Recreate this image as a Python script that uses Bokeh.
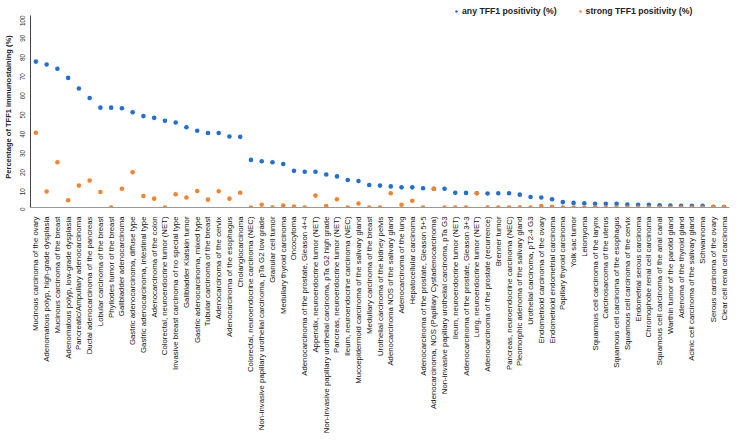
import math
from bokeh.plotting import figure
from bokeh.models import FactorRange, Range1d, FixedTicker, Legend, LegendItem, ColumnDataSource
from bokeh.embed import file_html
from bokeh.resources import INLINE

categories = [
    "Mucinous carcinoma of the ovary",
    "Adenomatous polyp, high-grade dysplasia",
    "Mucinous carcinoma of the breast",
    "Adenomatous polyp, low-grade dysplasia",
    "Pancreatic/Ampullary adenocarcinoma",
    "Ductal adenocarcinoma of the pancreas",
    "Lobular carcinoma of the breast",
    "Phyllodes tumor of the breast",
    "Gallbladder adenocarcinoma",
    "Gastric adenocarcinoma, diffuse type",
    "Gastric adenocarcinoma, intestinal type",
    "Adenocarcinoma of the colon",
    "Colorectal, neuroendocrine tumor (NET)",
    "Invasive breast carcinoma of no special type",
    "Gallbladder Klatskin tumor",
    "Gastric adenocarcinoma, mixed type",
    "Tubular carcinoma of the breast",
    "Adenocarcinoma of the cervix",
    "Adenocarcinoma of the esophagus",
    "Cholangiocarcinoma",
    "Colorectal, neuroendocrine carcinoma (NEC)",
    "Non-invasive papillary urothelial carcinoma, pTa G2 low grade",
    "Granular cell tumor",
    "Medullary thyroid carcinoma",
    "Oncocytoma",
    "Adenocarcinoma of the prostate, Gleason 4+4",
    "Appendix, neuroendocrine tumor (NET)",
    "Non-invasive papillary urothelial carcinoma, pTa G2 high grade",
    "Pancreas, neuroendocrine tumor (NET)",
    "Ileum, neuroendocrine carcinoma (NEC)",
    "Mucoepidermoid carcinoma of the salivary gland",
    "Medullary carcinoma of the breast",
    "Urothelial carcinoma of the kidney pelvis",
    "Adenocarcinoma NOS of the salivary gland",
    "Adenocarcinoma of the lung",
    "Hepatocellular carcinoma",
    "Adenocarcinoma of the prostate, Gleason 5+5",
    "Adenocarcinoma, NOS (Papillary Cystadenocarcinoma)",
    "Non-invasive papillary urothelial carcinoma, pTa G3",
    "Ileum, neuroendocrine tumor (NET)",
    "Adenocarcinoma of the prostate, Gleason 3+3",
    "Lung, neuroendocrine tumor (NET)",
    "Adenocarcinoma of the prostate (recurrence)",
    "Brenner tumor",
    "Pancreas, neuroendocrine carcinoma (NEC)",
    "Pleomorphic adenoma of the salivary gland",
    "Urothelial carcinoma, pT2-4 G3",
    "Endometrioid carcinoma of the ovary",
    "Endometrioid endometrial carcinoma",
    "Papillary thyroid carcinoma",
    "Yolk sac tumor",
    "Leiomyoma",
    "Squamous cell carcinoma of the larynx",
    "Carcinosarcoma of the uterus",
    "Squamous cell carcinoma of the esophagus",
    "Squamous cell carcinoma of the cervix",
    "Endometrial serous carcinoma",
    "Chromophobe renal cell carcinoma",
    "Squamous cell carcinoma of the anal canal",
    "Warthin tumor of the parotid gland",
    "Adenoma of the thyroid gland",
    "Acinic cell carcinoma of the salivary gland",
    "Schwannoma",
    "Serous carcinoma of the ovary",
    "Clear cell renal cell carcinoma",
]

any_positivity = [
    76, 74.5, 72.3, 67.5, 62, 57, 52, 52, 51.7, 49.6,
    47.6, 46.7, 45.2, 44.3, 41.8, 40, 38.8, 38.8, 37, 36.8,
    24.8, 24.1, 23.6, 22.7, 19.1, 18.6, 18.6, 17.2, 16.2, 14.3,
    13.8, 11.7, 11.4, 11.0, 10.5, 10.5, 10.0, 9.8, 9.8, 7.7,
    7.6, 7.4, 7.3, 7.4, 7.4, 6.7, 5.5, 5.2, 4.3, 2.8,
    2.4, 2.2, 1.9, 1.9, 1.9, 1.5, 1.4, 1.4, 1.2, 1.0,
    0.9, 0.9, 0.9, 0.4, 0.2,
]

strong_positivity = [
    38.9, 8.3, 23.6, 3.8, 11.4, 14.1, 8.1, 0, 9.8, 18.4,
    6.0, 4.6, 0, 6.9, 5.2, 8.6, 4.1, 8.5, 4.6, 7.7,
    0, 1.4, 0, 1.0, 0.5, 0, 6.2, 0.8, 4.3, 0,
    2.1, 0, 0, 7.4, 1.4, 3.5, 0, 9.8, 0, 0,
    0, 7.4, 0, 0, 0, 0, 0, 0.8, 0.4, 0,
    0, 0, 0, 0, 0, 0, 0, 0, 0, 0,
    0, 0, 0, 0.3, 0.2,
]

y_ticks = list(range(0, 101, 10))

series_names = ["any TFF1 positivity (%)", "strong TFF1 positivity (%)"]
colors = ["#1f6fd6", "#f7842c"]

src = ColumnDataSource(dict(cat=categories, any=any_positivity, strong=strong_positivity))

p = figure(
    x_range=FactorRange(*categories, range_padding=0),
    y_range=Range1d(0, 104.7),
    frame_width=699, frame_height=201,
    output_backend="svg", toolbar_location=None,
    min_border_top=6, min_border_left=18, min_border_right=2, min_border_bottom=216,
)
p.x_range.factor_padding = 0
p.outline_line_color = None
p.xgrid.grid_line_color = None
p.ygrid.grid_line_color = None

r1 = p.scatter("cat", "any", source=src, size=4.6, color=colors[0], line_color=None)
r2 = p.scatter("cat", "strong", source=src, size=4.6, color=colors[1], line_color=None)

FONT = "Liberation Sans"

yax = p.yaxis[0]
yax.ticker = FixedTicker(ticks=y_ticks)
yax.bounds = (0, 100)
yax.major_label_orientation = math.pi / 2
yax.major_label_text_font = FONT
yax.major_label_text_font_size = "6.3px"
yax.major_label_text_color = "#333333"
yax.major_label_standoff = 2
yax.major_tick_line_color = None
yax.minor_tick_line_color = None
yax.axis_line_color = "#444444"
yax.axis_label = "Percentage of TFF1 immunostaining (%)"
yax.axis_label_text_font = FONT
yax.axis_label_text_font_size = "7.5px"
yax.axis_label_text_font_style = "bold"
yax.axis_label_text_color = "#222222"
yax.axis_label_standoff = 2

xax = p.xaxis[0]
xax.major_label_orientation = math.pi / 2
xax.major_label_text_font = FONT
xax.major_label_text_font_size = "7.8px"
xax.major_label_text_color = "#111111"
xax.major_label_standoff = 3
xax.major_tick_line_color = None
xax.minor_tick_line_color = None
xax.axis_line_color = "#999999"

legend = Legend(
    items=[LegendItem(label=series_names[0], renderers=[r1]),
           LegendItem(label=series_names[1], renderers=[r2])],
    location=(423, 191), orientation="horizontal",
    background_fill_alpha=0, border_line_color=None,
    label_text_font=FONT, label_text_font_size="8.7px", label_text_font_style="bold",
    label_text_color="#222222",
    glyph_width=6, glyph_height=8, label_height=8, label_standoff=3,
    spacing=20, padding=0, margin=0,
)
p.add_layout(legend)

open("out.html", "w").write(file_html(p, INLINE))
